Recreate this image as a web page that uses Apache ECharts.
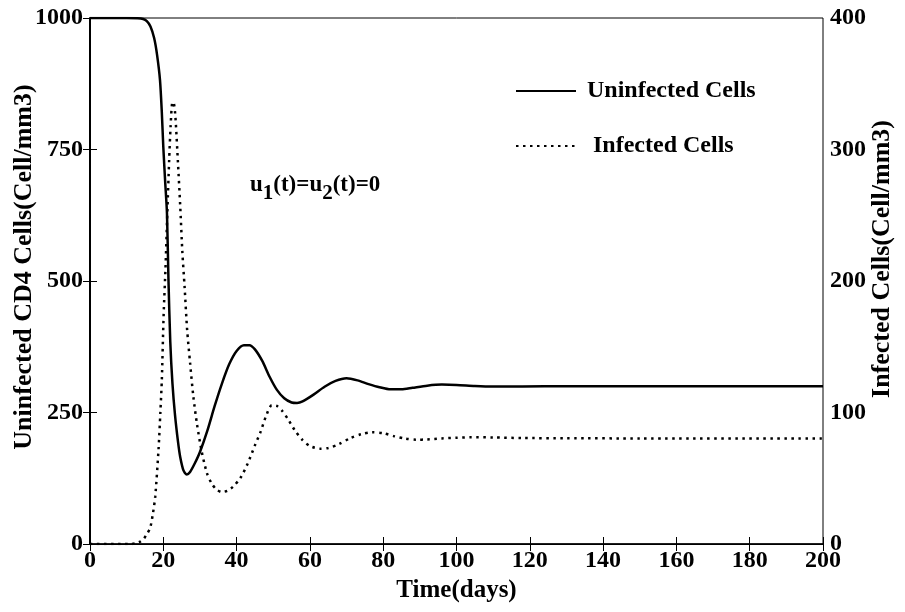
<!DOCTYPE html>
<html><head><meta charset="utf-8">
<script src="https://cdn.jsdelivr.net/npm/echarts@6/dist/echarts.min.js"></script>
<style>html,body{margin:0;padding:0;background:#fff}#c{width:905px;height:612px}</style>
</head><body><div id="c"></div>
<script>
// Time (days) and uninfected CD4 cells (left axis)
const uninfT = [0,10,13,14.5,15.5,16.5,17.5,18.3,19.1,19.6,20.0,20.5,21.0,21.4,21.9,22.5,23.2,24.0,24.6,25.5,26.4,27.3,28.5,30,32,34,36,38,40,42,43.5,45,47,49,51,53,55,56.5,58,61,64,67,70,73,76,79,82,85,88,92,96,100,105,110,118,130,150,200];
const uninfV = [1000,1000,999.5,998,994,984,962,930,882,820,755,690,629,505,385,305,245,195,166,140,132,137,152,175,215,262,305,342,367,378,378,370,348,318,293,277,269,268,271,284,299,310,315,311,304,298,294,294,297,301,303,302.5,300.5,299.5,299.5,300,300,300];
// Time (days) and infected cells (right axis)
const infT = [0,11,12.5,13.7,14.7,15.5,16.4,17.1,17.8,18.7,19.2,19.6,20.1,20.6,21.1,21.6,22.0,22.5,22.9,23.3,24.0,24.6,25.2,25.8,26.5,27.3,28.2,29.2,30.5,31.9,33.2,34.5,36,37.5,39,41,43,45,46.5,48,49.6,51,52.5,54,56,58,60,62.8,65,68,71,74,77,80,83,86,89,92,96,100,104,110,118,130,150,200];
const infV = [0,0,0.5,1.8,4,7.5,12,22,36,72,100,125,175,210,252,292,318,336,335,325,290,258,222,196,163,138,112,91,70,54,46,41.5,39.5,40.5,43.5,50,61,75,85,97,105.5,105,101,95,86,79,74.5,72.5,73,76,80.5,83.5,85,84.3,82,80.2,79.3,79.5,80.3,80.8,81.2,81,80.6,80.4,80.3,80.3];
const seriesNames = ['Uninfected Cells', 'Infected Cells'];
const xTickStep = 20, leftTickStep = 250, rightTickStep = 100;

const FONT = '"Liberation Serif", "Times New Roman", serif';
const txt = {fontFamily: FONT, fontWeight: 'bold', fontSize: 24, color: '#000'};
const nameTxt = {fontFamily: FONT, fontWeight: 'bold', fontSize: 26, color: '#000'};
const plain = v => String(v);
const chart = echarts.init(document.getElementById('c'));
chart.setOption({
  animation: false,
  backgroundColor: '#fff',
  grid: {left: 90, right: 82, top: 18, bottom: 68, show: true, borderColor: '#000', borderWidth: 1,
         containLabel: false, outerBoundsMode: 'none'},
  legend: {
    orient: 'vertical', left: 510, top: 74, itemWidth: 60, itemHeight: 24, itemGap: 31,
    textStyle: txt, data: seriesNames,
    itemStyle: {opacity: 0},
    formatter: n => n === 'Infected Cells' ? '  ' + n : ' ' + n
  },
  xAxis: [{
    type: 'value', min: 0, max: 200, interval: xTickStep, position: 'bottom',
    axisLine: {lineStyle: {color: '#000', width: 1.5}},
    axisTick: {inside: true, length: 7, lineStyle: {color: '#000'}},
    axisLabel: Object.assign({margin: 5, formatter: plain}, txt),
    splitLine: {show: false},
    name: 'Time(days)', nameLocation: 'middle', nameGap: 34, nameMoveOverlap: false,
    nameTextStyle: Object.assign({}, nameTxt, {fontSize: 25})
  }, {
    type: 'value', min: 0, max: 200, interval: xTickStep, position: 'top',
    axisLine: {show: true, lineStyle: {color: '#000', width: 1}},
    axisTick: {show: true, inside: true, length: 7, lineStyle: {color: '#000'}},
    axisLabel: {show: false}, splitLine: {show: false}
  }],
  yAxis: [{
    type: 'value', min: 0, max: 1000, interval: leftTickStep, position: 'left',
    axisLine: {show: true, lineStyle: {color: '#000', width: 2}},
    axisTick: {show: true, inside: true, length: 7, lineStyle: {color: '#000'}},
    axisLabel: Object.assign({margin: 7, formatter: plain}, txt),
    splitLine: {show: false},
    name: 'Uninfected CD4 Cells(Cell/mm3)', nameLocation: 'middle', nameGap: 53, nameRotate: 90,
    nameMoveOverlap: false,
    nameTextStyle: Object.assign({padding: [0, 0, 0, 28]}, nameTxt)
  }, {
    type: 'value', min: 0, max: 400, interval: rightTickStep, position: 'right',
    axisLine: {show: true, lineStyle: {color: '#000', width: 1}},
    axisTick: {show: true, inside: true, length: 7, lineStyle: {color: '#000'}},
    axisLabel: Object.assign({margin: 7, formatter: plain}, txt),
    splitLine: {show: false},
    name: 'Infected Cells(Cell/mm3)', nameLocation: 'middle', nameGap: 46, nameRotate: 90,
    nameMoveOverlap: false,
    nameTextStyle: Object.assign({padding: [0, 0, 0, 44]}, nameTxt)
  }],
  graphic: [{
    type: 'text', left: 250, top: 174,
    style: {
      text: '{n|u}{s|1}{n|(t)=u}{s|2}{n|(t)=0}',
      rich: {
        n: {fontFamily: FONT, fontWeight: 'bold', fontSize: 23, fill: '#000', verticalAlign: 'bottom', padding: [0, 0, 7, 0]},
        s: {fontFamily: FONT, fontWeight: 'bold', fontSize: 21, fill: '#000', verticalAlign: 'bottom'}
      }
    }
  }],
  series: [{
    name: seriesNames[0], type: 'line', xAxisIndex: 0, yAxisIndex: 0,
    data: uninfT.map((t, i) => [t, uninfV[i]]),
    symbol: 'none', smooth: 0.25, color: '#000',
    lineStyle: {color: '#000', width: 2.5}
  }, {
    name: seriesNames[1], type: 'line', xAxisIndex: 0, yAxisIndex: 1,
    data: infT.map((t, i) => [t, infV[i]]),
    symbol: 'none', smooth: 0.25, color: '#000',
    lineStyle: {color: '#000', width: 2.5, type: [2.5, 4.5]}
  }]
});
</script></body></html>
